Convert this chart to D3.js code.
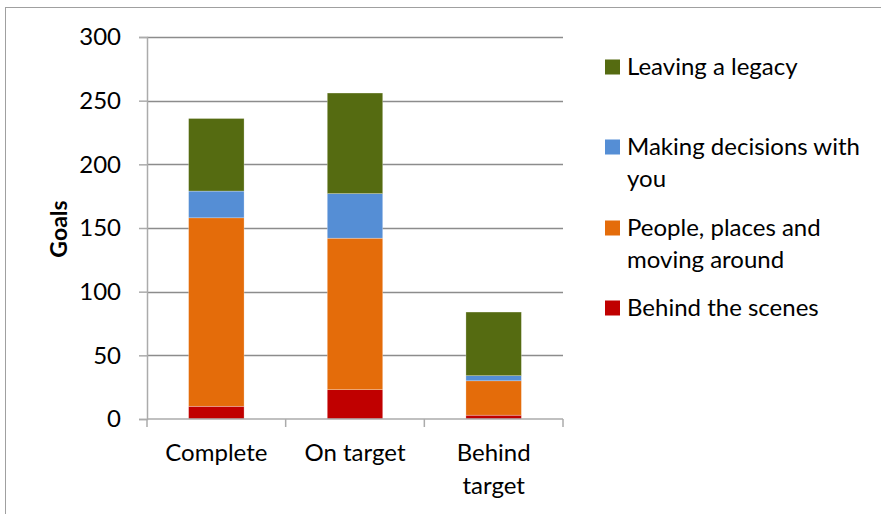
<!DOCTYPE html>
<html>
<head>
<meta charset="utf-8">
<script src="https://cdn.jsdelivr.net/npm/d3@7"></script>
<style>
  body { margin: 0; background: #fff; }
  svg text { font-family: Lato, "Open Sans", sans-serif; fill: #000; }
</style>
</head>
<body>
<div id="chart"></div>
<script>
// Data
const categories = ["Complete", "On target", "Behind target"];
const seriesNames = ["Behind the scenes", "People, places and moving around", "Making decisions with you", "Leaving a legacy"];
const behindScenes = [10, 23, 3];
const peoplePlaces = [148, 119, 27];
const makingDecisions = [21, 35, 4];
const leavingLegacy = [57, 79, 50];
const yTicks = [0, 50, 100, 150, 200, 250, 300];

const colors = ["#c00000", "#e46c0a", "#558ed5", "#556b11"];

const width = 881, height = 514;
const fontSize = 24;
const svg = d3.select('#chart').append('svg')
    .attr('width', width)
    .attr('height', height);

// outer chart frame
svg.append('rect')
    .attr('x', 5.5).attr('y', 7.5)
    .attr('width', 900).attr('height', 600)
    .attr('fill', 'none')
    .attr('stroke', '#a0a0a0');

const plot = { left: 147, right: 563, top: 37, bottom: 419 };

const x = d3.scaleBand()
    .domain(categories)
    .range([plot.left, plot.right])
    .paddingInner(0.6)
    .paddingOuter(0.3);

const y = d3.scaleLinear()
    .domain([0, 300])
    .range([plot.bottom, plot.top]);

// build the stack table
const table = categories.map((c, i) => ({
    category: c,
    [seriesNames[0]]: behindScenes[i],
    [seriesNames[1]]: peoplePlaces[i],
    [seriesNames[2]]: makingDecisions[i],
    [seriesNames[3]]: leavingLegacy[i]
}));
const stacked = d3.stack().keys(seriesNames)(table);

// gridlines
svg.append('g')
    .selectAll('line')
    .data(yTicks.filter(t => t > 0))
    .enter().append('line')
    .attr('x1', plot.left).attr('x2', plot.right)
    .attr('y1', d => Math.round(y(d)) + 0.5)
    .attr('y2', d => Math.round(y(d)) + 0.5)
    .attr('stroke', '#8c8c8c')
    .attr('stroke-width', 1.5);

// bars
svg.append('g')
    .selectAll('g')
    .data(stacked)
    .enter().append('g')
    .attr('fill', (d, i) => colors[i])
    .selectAll('rect')
    .data(d => d)
    .enter().append('rect')
    .attr('x', d => x(d.data.category))
    .attr('width', x.bandwidth())
    .attr('y', d => y(d[1]))
    .attr('height', d => y(d[0]) - y(d[1]))
    .attr('stroke', 'rgba(255,255,255,0.45)')
    .attr('stroke-width', 0.6);

// y axis
const yAxis = svg.append('g')
    .attr('transform', `translate(${plot.left},0)`)
    .call(d3.axisLeft(y).tickValues(yTicks).tickSize(8).tickPadding(18));
yAxis.select('.domain').attr('stroke', '#ababab').attr('stroke-width', 1.5);
yAxis.selectAll('.tick line').attr('stroke', '#ababab').attr('stroke-width', 1.5);
yAxis.selectAll('.tick text')
    .style('font-family', 'Lato, sans-serif')
    .attr('font-size', fontSize)
    .attr('fill', '#000');

// x axis
const xAxis = svg.append('g')
    .attr('transform', `translate(0,${plot.bottom})`)
    .call(d3.axisBottom(x).tickSize(0).tickFormat(''));
xAxis.select('.domain').attr('stroke', '#ababab').attr('stroke-width', 1.5)
    .attr('d', `M${plot.left},0H${plot.right}`);

// category boundary ticks
const step = (plot.right - plot.left) / categories.length;
svg.append('g')
    .selectAll('line')
    .data(d3.range(categories.length + 1))
    .enter().append('line')
    .attr('x1', d => plot.left + d * step)
    .attr('x2', d => plot.left + d * step)
    .attr('y1', plot.bottom)
    .attr('y2', plot.bottom + 8)
    .attr('stroke', '#ababab')
    .attr('stroke-width', 1.5);

// category labels (wrapped like the original)
const catLines = { "Complete": ["Complete"], "On target": ["On target"], "Behind target": ["Behind", "target"] };
categories.forEach(c => {
    const t = svg.append('text')
        .attr('x', x(c) + x.bandwidth() / 2)
        .attr('y', 461)
        .attr('text-anchor', 'middle')
        .attr('font-size', fontSize);
    catLines[c].forEach((line, i) => {
        t.append('tspan')
            .attr('x', x(c) + x.bandwidth() / 2)
            .attr('dy', i === 0 ? 0 : 33)
            .text(line);
    });
});

// y axis title
svg.append('text')
    .attr('transform', 'translate(67,229) rotate(-90)')
    .attr('text-anchor', 'middle')
    .attr('font-size', 23)
    .attr('font-weight', 'bold')
    .text('Goals');

// legend
const legendItems = [
    { name: ["Leaving a legacy"], color: colors[3], y: 67 },
    { name: ["Making decisions with", "you"], color: colors[2], y: 147 },
    { name: ["People, places and", "moving around"], color: colors[1], y: 228 },
    { name: ["Behind the scenes"], color: colors[0], y: 308 }
];
const legend = svg.append('g');
legendItems.forEach(item => {
    legend.append('rect')
        .attr('x', 605).attr('y', item.y - 7.5)
        .attr('width', 15).attr('height', 15)
        .attr('fill', item.color);
    const t = legend.append('text')
        .attr('x', 627)
        .attr('y', item.y + 8)
        .attr('font-size', fontSize);
    item.name.forEach((line, i) => {
        t.append('tspan')
            .attr('x', 627)
            .attr('dy', i === 0 ? 0 : 32)
            .text(line);
    });
});
</script>
</body>
</html>
